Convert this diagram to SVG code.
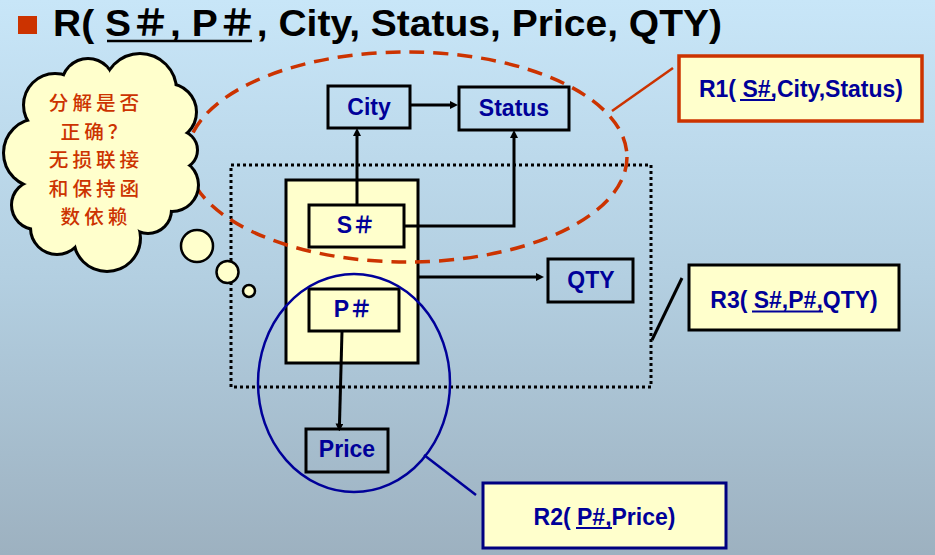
<svg xmlns="http://www.w3.org/2000/svg" width="935" height="555" viewBox="0 0 935 555">
  <defs>
    <linearGradient id="bg" x1="0" y1="0" x2="0" y2="1">
      <stop offset="0" stop-color="#c8e6f8"/>
      <stop offset="0.5" stop-color="#b3cfe1"/>
      <stop offset="1" stop-color="#9db1c0"/>
    </linearGradient>
    <marker id="arrow" viewBox="0 0 10 10" refX="5" refY="5" markerWidth="8" markerHeight="8" markerUnits="userSpaceOnUse" orient="auto">
      <path d="M0,0 L10,5 L0,10 z" fill="#000"/>
    </marker>
    <!-- bumps of the thought cloud, drawn twice: outline pass then fill pass -->
    <g id="cloudShape">
      <circle cx="100" cy="160" r="70"/>
      <circle cx="88" cy="85" r="25"/>
      <circle cx="140" cy="90" r="35"/>
      <circle cx="168" cy="112" r="27"/>
      <circle cx="178" cy="150" r="18"/>
      <circle cx="172" cy="185" r="25"/>
      <circle cx="148" cy="210" r="22"/>
      <circle cx="107" cy="238" r="32"/>
      <circle cx="57" cy="228" r="25"/>
      <circle cx="36" cy="205" r="23"/>
      <circle cx="38" cy="153" r="33"/>
      <circle cx="55" cy="105" r="30"/>
    </g>
  </defs>
  <style>
    .box{fill:none;stroke:#000;stroke-width:3}
    .ybox{fill:#ffffcc;stroke:#000;stroke-width:3}
    .lbl{font-family:"Liberation Sans","Noto Sans CJK SC",sans-serif;font-weight:bold;font-size:23px;fill:#000099;text-anchor:middle}
    .conn{fill:none;stroke:#000;stroke-width:3;marker-end:url(#arrow)}
    .uline{stroke:#000099;stroke-width:2}
    .cjk{font-family:"Noto Sans CJK SC",sans-serif;font-size:19.6px;letter-spacing:4px;font-weight:500;fill:#cc3300;text-anchor:middle}
    .bubble{fill:#ffffcc;stroke:#000;stroke-width:2.5}
  </style>

  <!-- background -->
  <rect x="0" y="0" width="935" height="555" fill="url(#bg)"/>

  <!-- heading -->
  <g id="title">
    <rect x="18" y="16" width="19" height="18" fill="#cc3300"/>
    <text x="53" y="36" textLength="669" lengthAdjust="spacingAndGlyphs" font-family="Liberation Sans, Noto Sans CJK SC, sans-serif" font-weight="bold" font-size="36" fill="#000">R( S＃, P＃, City, Status, Price, QTY)</text>
    <line x1="107" y1="41" x2="252" y2="41" stroke="#000" stroke-width="2.5"/>
  </g>

  <!-- dotted boundary of R3 -->
  <rect id="r3-region" x="231" y="165" width="420" height="222" fill="none" stroke="#000" stroke-width="3" stroke-dasharray="3 3"/>

  <!-- composite key block -->
  <g id="key-block">
    <rect class="ybox" x="286" y="180" width="132" height="183"/>
  </g>
  <g id="node-s">
    <rect class="ybox" x="309" y="205" width="95" height="42"/>
    <text class="lbl" x="356" y="233">S＃</text>
  </g>
  <g id="node-p">
    <rect class="ybox" x="309" y="289" width="90" height="42"/>
    <text class="lbl" x="353" y="317">P＃</text>
  </g>
  <g id="node-city">
    <rect class="box" x="328" y="86" width="82" height="42"/>
    <text class="lbl" x="369" y="115">City</text>
  </g>
  <g id="node-status">
    <rect class="box" x="459" y="87" width="110" height="43"/>
    <text class="lbl" x="514" y="116">Status</text>
  </g>
  <g id="node-qty">
    <rect class="box" x="548" y="259" width="85" height="43"/>
    <text class="lbl" x="591" y="288">QTY</text>
  </g>
  <g id="node-price">
    <rect class="box" x="306" y="429" width="82" height="43"/>
    <text class="lbl" x="347" y="457">Price</text>
  </g>

  <!-- functional dependencies -->
  <g id="connectors">
    <path class="conn" d="M357,205 V132"/>
    <path class="conn" d="M404,226 H514 V134"/>
    <path class="conn" d="M410,105 H454"/>
    <path class="conn" d="M418,277 H540"/>
    <path class="conn" d="M342,331 L339.4,427.5"/>
    <line x1="673" y1="68" x2="612" y2="111" stroke="#cc3300" stroke-width="2.5"/>
    <line x1="682" y1="278" x2="652" y2="340" stroke="#000" stroke-width="3"/>
    <line x1="424" y1="455" x2="476" y2="495" stroke="#000099" stroke-width="2.5"/>
  </g>

  <!-- decomposition outlines -->
  <ellipse id="r1-region" cx="407" cy="157" rx="220" ry="105" fill="none" stroke="#cc3300" stroke-width="3.5" stroke-dasharray="15 9"/>
  <ellipse id="r2-region" cx="354" cy="383" rx="96" ry="109" fill="none" stroke="#000099" stroke-width="2.5"/>

  <!-- thought cloud -->
  <g id="cloud">
    <use href="#cloudShape" fill="none" stroke="#000" stroke-width="6"/>
    <use href="#cloudShape" fill="#ffffcc" stroke="none"/>
    <text class="cjk" x="96" y="110">分解是否</text>
    <text class="cjk" x="96" y="138.5">正确？</text>
    <text class="cjk" x="96" y="167">无损联接</text>
    <text class="cjk" x="96" y="195.5">和保持函</text>
    <text class="cjk" x="96" y="224">数依赖</text>
    <circle class="bubble" cx="197" cy="246" r="16"/>
    <circle class="bubble" cx="227.5" cy="272" r="11"/>
    <circle class="bubble" cx="249" cy="291" r="6"/>
  </g>

  <!-- resulting relations -->
  <g id="rel-r1">
    <rect x="679" y="56" width="243" height="65" fill="#ffffcc" stroke="#cc3300" stroke-width="3.5"/>
    <text class="lbl" x="801" y="97">R1( S#,City,Status)</text>
    <line class="uline" x1="740" y1="100" x2="775" y2="100"/>
  </g>
  <g id="rel-r3">
    <rect class="ybox" x="689" y="265" width="210" height="65"/>
    <text class="lbl" x="794" y="308">R3( S#,P#,QTY)</text>
    <line class="uline" x1="752" y1="311.5" x2="823" y2="311.5"/>
  </g>
  <g id="rel-r2">
    <rect x="483" y="483" width="243" height="65" fill="#ffffcc" stroke="#000080" stroke-width="3"/>
    <text class="lbl" x="604.5" y="525">R2( P#,Price)</text>
    <line class="uline" x1="576" y1="528" x2="612" y2="528"/>
  </g>
</svg>
